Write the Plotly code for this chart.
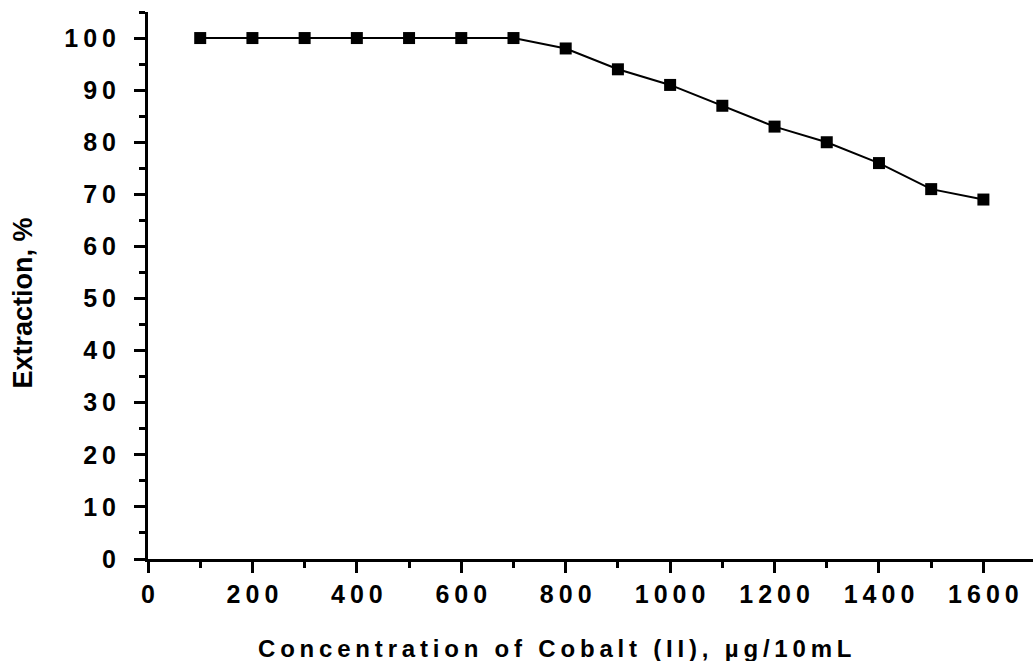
import plotly.graph_objects as go

concentration = [100, 200, 300, 400, 500, 600, 700, 800, 900, 1000, 1100, 1200, 1300, 1400, 1500, 1600]
extraction = [100, 100, 100, 100, 100, 100, 100, 98, 94, 91, 87, 83, 80, 76, 71, 69]

x_tickvals = [0, 200, 400, 600, 800, 1000, 1200, 1400, 1600]
y_tickvals = [0, 10, 20, 30, 40, 50, 60, 70, 80, 90, 100]

TS = "\u2009"
def spaced(s):
    return TS.join(list(s))

x_ticktext = [spaced(str(v)) for v in x_tickvals]
y_ticktext = [spaced(str(v)) for v in y_tickvals]

x_title = "Concentration of Cobalt (II), µg/10mL"
y_title = "Extraction, %"

font_family = "Liberation Sans, Arial, sans-serif"

fig = go.Figure()
fig.add_trace(go.Scatter(
    x=concentration, y=extraction, mode="lines+markers",
    line=dict(color="black", width=2),
    marker=dict(symbol="square", size=12, color="black"),
    showlegend=False,
))

axis_common = dict(
    showline=True, linecolor="black", linewidth=3,
    ticks="outside", ticklen=11, tickwidth=3, tickcolor="black",
    showgrid=False, zeroline=False,
    tickfont=dict(family=font_family, size=25, color="black", weight="bold"),
)

fig.update_xaxes(
    range=[0, 1695], tickvals=x_tickvals, ticktext=x_ticktext,
    minor=dict(dtick=100, tick0=0, ticks="outside", ticklen=6, tickwidth=3, tickcolor="black"),
    **axis_common,
)
fig.update_yaxes(
    range=[0, 105], tickvals=y_tickvals, ticktext=y_ticktext,
    minor=dict(dtick=5, tick0=0, ticks="outside", ticklen=6, tickwidth=3, tickcolor="black"),
    ticklabelstandoff=13,
    **axis_common,
)

fig.add_annotation(
    text=spaced(x_title), xref="paper", yref="paper",
    x=(554 - 148) / 885, y=(559 - 648) / 547, xanchor="center", yanchor="middle",
    showarrow=False,
    font=dict(family=font_family, size=24, color="black", weight="bold"),
)
fig.add_annotation(
    text=y_title, xref="paper", yref="paper", textangle=-90,
    x=(22 - 148) / 885, y=(559 - 303.5) / 547, xanchor="center", yanchor="middle",
    showarrow=False,
    font=dict(family=font_family, size=27, color="black", weight="bold"),
)

fig.update_layout(
    width=1033, height=661,
    margin=dict(l=148, r=0, t=12, b=102),
    plot_bgcolor="white", paper_bgcolor="white",
)

fig.write_html("out.html")
